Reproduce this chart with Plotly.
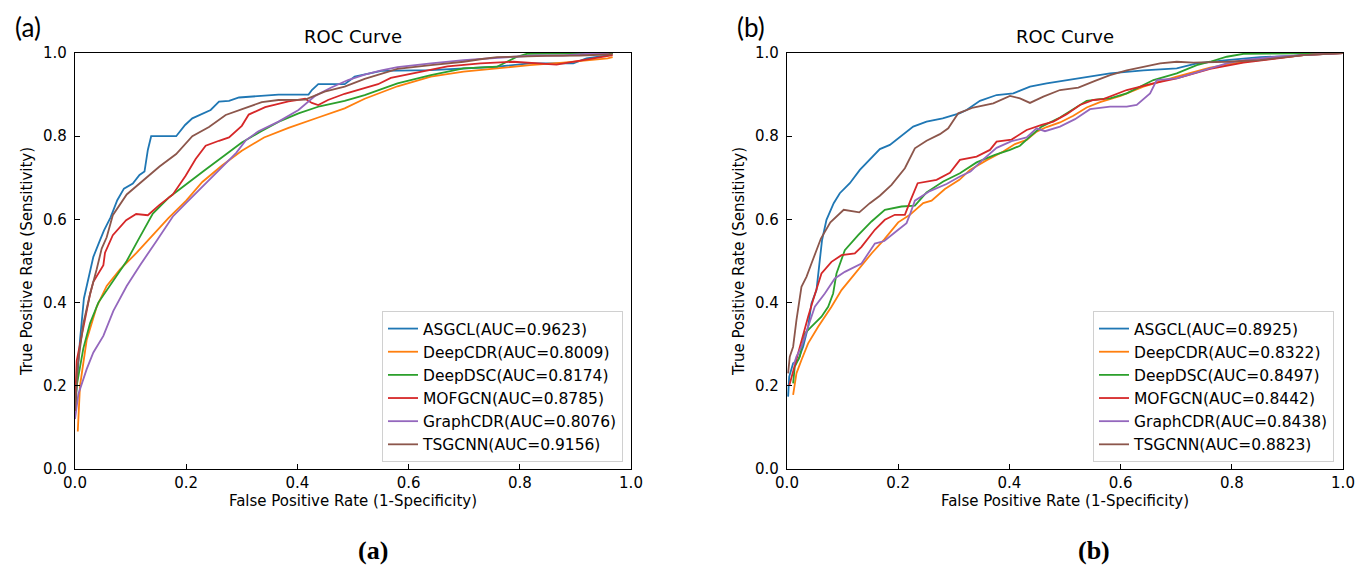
import plotly.graph_objects as go

MODELS = ["ASGCL", "DeepCDR", "DeepDSC", "MOFGCN", "GraphCDR", "TSGCNN"]
COLORS = ["#1f77b4", "#ff7f0e", "#2ca02c", "#d62728", "#9467bd", "#8c564b"]

AUC_A = [0.9623, 0.8009, 0.8174, 0.8785, 0.8076, 0.9156]
AUC_B = [0.8925, 0.8322, 0.8497, 0.8442, 0.8438, 0.8823]

# ---- panel (a): ROC points ----
A_ASGCL_FPR = [0.0, 0.009, 0.016, 0.024, 0.033, 0.045, 0.052, 0.064, 0.076, 0.088, 0.104, 0.116, 0.125,
               0.131, 0.137, 0.182, 0.198, 0.211, 0.229, 0.244, 0.259, 0.277, 0.295, 0.366, 0.42, 0.426,
               0.4375, 0.485, 0.503, 0.551, 0.64, 0.759, 0.818, 0.896, 0.92, 0.961, 0.967]
A_ASGCL_TPR = [0.14, 0.31, 0.41, 0.46, 0.51, 0.55, 0.573, 0.605, 0.646, 0.674, 0.686, 0.707, 0.715,
               0.767, 0.8, 0.8, 0.827, 0.843, 0.855, 0.863, 0.883, 0.885, 0.893, 0.9, 0.9, 0.911,
               0.925, 0.925, 0.943, 0.957, 0.959, 0.967, 0.975, 0.975, 0.987, 0.995, 1.0]

A_DEEPCDR_FPR = [0.005, 0.009, 0.021, 0.039, 0.057, 0.081, 0.111, 0.135, 0.168, 0.2, 0.229, 0.265, 0.3,
                 0.34, 0.384, 0.4375, 0.485, 0.521, 0.58, 0.64, 0.699, 0.759, 0.818, 0.878, 0.926, 0.958, 0.967]
A_DEEPCDR_TPR = [0.09, 0.2, 0.31, 0.39, 0.44, 0.48, 0.52, 0.555, 0.603, 0.645, 0.69, 0.73, 0.765,
                 0.797, 0.82, 0.845, 0.867, 0.89, 0.92, 0.943, 0.955, 0.963, 0.971, 0.977, 0.983, 0.987, 0.99]

A_DEEPDSC_FPR = [0.0, 0.003, 0.015, 0.027, 0.042, 0.063, 0.093, 0.113, 0.14, 0.17, 0.2, 0.235, 0.27, 0.3,
                 0.335, 0.37, 0.402, 0.44, 0.485, 0.521, 0.58, 0.64, 0.699, 0.759, 0.777, 0.795, 0.8125, 0.967]
A_DEEPDSC_TPR = [0.14, 0.2, 0.29, 0.35, 0.40, 0.44, 0.5, 0.549, 0.614, 0.654, 0.685, 0.72, 0.755, 0.785,
                 0.812, 0.837, 0.855, 0.872, 0.885, 0.899, 0.927, 0.947, 0.963, 0.967, 0.979, 0.991, 0.998, 1.0]

A_MOFGCN_FPR = [0.0, 0.003, 0.015, 0.027, 0.033, 0.051, 0.054, 0.068, 0.092, 0.11, 0.131, 0.152, 0.176,
                0.199, 0.217, 0.235, 0.259, 0.277, 0.3, 0.3125, 0.342, 0.384, 0.414, 0.426, 0.4375, 0.455,
                0.485, 0.521, 0.545, 0.568, 0.622, 0.67, 0.729, 0.789, 0.866, 0.926, 0.958, 0.967]
A_MOFGCN_TPR = [0.15, 0.26, 0.34, 0.42, 0.45, 0.49, 0.52, 0.562, 0.598, 0.613, 0.61, 0.635, 0.66,
                0.705, 0.745, 0.777, 0.789, 0.797, 0.825, 0.852, 0.87, 0.884, 0.89, 0.88, 0.875, 0.887,
                0.902, 0.915, 0.925, 0.94, 0.955, 0.968, 0.975, 0.979, 0.972, 0.985, 0.993, 0.995]

A_GRAPHCDR_FPR = [0.0, 0.006, 0.021, 0.033, 0.051, 0.069, 0.093, 0.117, 0.146, 0.176, 0.2, 0.223, 0.259,
                  0.29, 0.307, 0.33, 0.366, 0.402, 0.432, 0.461, 0.491, 0.521, 0.551, 0.58, 0.64, 0.699,
                  0.789, 0.83, 0.878, 0.92, 0.96]
A_GRAPHCDR_TPR = [0.12, 0.18, 0.24, 0.28, 0.32, 0.38, 0.44, 0.49, 0.547, 0.607, 0.64, 0.671, 0.717,
                  0.76, 0.79, 0.812, 0.835, 0.863, 0.897, 0.917, 0.935, 0.948, 0.958, 0.966, 0.975, 0.983,
                  0.991, 0.994, 0.994, 0.998, 1.0]

A_TSGCNN_FPR = [0.0, 0.005, 0.015, 0.027, 0.039, 0.048, 0.057, 0.068, 0.093, 0.122, 0.152, 0.182, 0.211,
                0.241, 0.271, 0.307, 0.336, 0.366, 0.414, 0.449, 0.485, 0.521, 0.58, 0.64, 0.699, 0.729,
                0.759, 0.848, 0.908, 0.967]
A_TSGCNN_TPR = [0.14, 0.25, 0.35, 0.42, 0.48, 0.53, 0.557, 0.61, 0.66, 0.694, 0.727, 0.757, 0.8,
                0.822, 0.851, 0.868, 0.882, 0.887, 0.888, 0.907, 0.919, 0.938, 0.962, 0.971, 0.979, 0.985,
                0.99, 0.993, 0.994, 0.997]

# ---- panel (b) ----
B_ASGCL_FPR = [0.002, 0.004, 0.011, 0.02, 0.029, 0.038, 0.044, 0.053, 0.059, 0.063, 0.071, 0.084, 0.095,
               0.113, 0.131, 0.149, 0.167, 0.185, 0.209, 0.227, 0.251, 0.28, 0.31, 0.323, 0.347, 0.377,
               0.407, 0.437, 0.467, 0.503, 0.539, 0.581, 0.641, 0.701, 0.737, 0.791, 0.851, 0.911, 0.941, 1.0]
B_ASGCL_TPR = [0.174, 0.222, 0.254, 0.262, 0.294, 0.342, 0.398, 0.43, 0.502, 0.55, 0.599, 0.639, 0.663,
               0.687, 0.719, 0.743, 0.769, 0.779, 0.805, 0.823, 0.835, 0.843, 0.855, 0.863, 0.885, 0.899,
               0.903, 0.919, 0.927, 0.935, 0.943, 0.951, 0.958, 0.963, 0.975, 0.983, 0.99, 0.993, 0.998, 1.0]

B_DEEPCDR_FPR = [0.011, 0.017, 0.026, 0.038, 0.056, 0.08, 0.098, 0.122, 0.152, 0.175, 0.2, 0.221, 0.245,
                 0.26, 0.284, 0.31, 0.329, 0.36, 0.389, 0.41, 0.431, 0.449, 0.467, 0.491, 0.515, 0.539,
                 0.563, 0.6, 0.641, 0.701, 0.761, 0.821, 0.881, 0.929, 0.971, 1.0]
B_DEEPCDR_TPR = [0.178, 0.23, 0.262, 0.302, 0.342, 0.39, 0.43, 0.47, 0.518, 0.552, 0.593, 0.611, 0.639,
                 0.645, 0.673, 0.695, 0.719, 0.743, 0.763, 0.781, 0.791, 0.811, 0.822, 0.833, 0.849, 0.869,
                 0.882, 0.897, 0.919, 0.943, 0.965, 0.979, 0.987, 0.995, 0.998, 1.0]

B_DEEPDSC_FPR = [0.011, 0.014, 0.023, 0.032, 0.044, 0.062, 0.074, 0.083, 0.089, 0.104, 0.128, 0.152, 0.176,
                 0.206, 0.23, 0.251, 0.281, 0.311, 0.341, 0.374, 0.401, 0.419, 0.437, 0.458, 0.491, 0.518,
                 0.539, 0.563, 0.581, 0.611, 0.659, 0.701, 0.737, 0.761, 0.791, 0.821, 1.0]
B_DEEPDSC_TPR = [0.206, 0.246, 0.27, 0.326, 0.342, 0.366, 0.39, 0.422, 0.47, 0.526, 0.562, 0.595, 0.623,
                 0.631, 0.633, 0.665, 0.691, 0.711, 0.737, 0.755, 0.767, 0.777, 0.799, 0.823, 0.845, 0.867,
                 0.885, 0.889, 0.891, 0.903, 0.935, 0.951, 0.971, 0.979, 0.991, 0.998, 1.0]

B_MOFGCN_FPR = [0.004, 0.018, 0.032, 0.038, 0.047, 0.062, 0.08, 0.098, 0.122, 0.134, 0.158, 0.176, 0.194,
                0.212, 0.222, 0.235, 0.269, 0.293, 0.311, 0.341, 0.365, 0.377, 0.404, 0.431, 0.458, 0.479,
                0.503, 0.527, 0.551, 0.569, 0.611, 0.659, 0.701, 0.761, 0.821, 0.881, 0.929, 0.971, 1.0]
B_MOFGCN_TPR = [0.2, 0.27, 0.334, 0.366, 0.406, 0.47, 0.498, 0.514, 0.518, 0.534, 0.575, 0.599, 0.611,
                0.611, 0.645, 0.687, 0.695, 0.712, 0.743, 0.751, 0.767, 0.787, 0.792, 0.815, 0.827, 0.835,
                0.853, 0.875, 0.887, 0.889, 0.911, 0.927, 0.939, 0.962, 0.977, 0.987, 0.995, 0.998, 1.0]

B_GRAPHCDR_FPR = [0.012, 0.017, 0.026, 0.038, 0.05, 0.068, 0.086, 0.104, 0.134, 0.158, 0.175, 0.2, 0.215,
                  0.222, 0.23, 0.257, 0.287, 0.311, 0.33, 0.352, 0.377, 0.404, 0.431, 0.449, 0.464, 0.491,
                  0.518, 0.545, 0.581, 0.611, 0.629, 0.653, 0.665, 0.701, 0.731, 0.761, 0.791, 0.821, 0.881,
                  0.929, 1.0]
B_GRAPHCDR_TPR = [0.25, 0.27, 0.294, 0.342, 0.39, 0.422, 0.458, 0.474, 0.494, 0.542, 0.548, 0.575, 0.591,
                  0.615, 0.645, 0.668, 0.685, 0.703, 0.715, 0.743, 0.772, 0.788, 0.797, 0.819, 0.812, 0.823,
                  0.841, 0.865, 0.871, 0.871, 0.875, 0.903, 0.935, 0.939, 0.951, 0.963, 0.975, 0.983, 0.991,
                  0.995, 1.0]

B_TSGCNN_FPR = [0.002, 0.005, 0.011, 0.017, 0.026, 0.035, 0.044, 0.053, 0.061, 0.078, 0.102, 0.13, 0.149,
                0.167, 0.188, 0.212, 0.23, 0.251, 0.275, 0.29, 0.308, 0.335, 0.371, 0.401, 0.419, 0.437,
                0.461, 0.491, 0.524, 0.554, 0.581, 0.611, 0.641, 0.671, 0.701, 0.731, 0.791, 0.851, 0.929, 1.0]
B_TSGCNN_TPR = [0.23, 0.27, 0.294, 0.358, 0.438, 0.462, 0.494, 0.526, 0.554, 0.593, 0.623, 0.617, 0.639,
                0.657, 0.683, 0.723, 0.771, 0.789, 0.805, 0.819, 0.855, 0.869, 0.879, 0.897, 0.891, 0.88,
                0.895, 0.911, 0.917, 0.933, 0.947, 0.958, 0.967, 0.975, 0.979, 0.977, 0.979, 0.983, 0.995, 1.0]

PANEL_A = [(A_ASGCL_FPR, A_ASGCL_TPR), (A_DEEPCDR_FPR, A_DEEPCDR_TPR), (A_DEEPDSC_FPR, A_DEEPDSC_TPR),
           (A_MOFGCN_FPR, A_MOFGCN_TPR), (A_GRAPHCDR_FPR, A_GRAPHCDR_TPR), (A_TSGCNN_FPR, A_TSGCNN_TPR)]
PANEL_B = [(B_ASGCL_FPR, B_ASGCL_TPR), (B_DEEPCDR_FPR, B_DEEPCDR_TPR), (B_DEEPDSC_FPR, B_DEEPDSC_TPR),
           (B_MOFGCN_FPR, B_MOFGCN_TPR), (B_GRAPHCDR_FPR, B_GRAPHCDR_TPR), (B_TSGCNN_FPR, B_TSGCNN_TPR)]

# the page body has an 8px margin, so the figure is drawn 8px in from the window corner
OFF = 8
W, H = 1369 - OFF, 565 - OFF
FONT = "DejaVu Sans"


def px_x(p):
    return (p - OFF) / W


def px_y(p):
    return 1 - (p - OFF) / H


fig = go.Figure()

for panel, (curves, aucs, xa, ya, leg) in enumerate(
    [(PANEL_A, AUC_A, "x", "y", "legend"), (PANEL_B, AUC_B, "x2", "y2", "legend2")]
):
    for i, ((fpr, tpr), auc) in enumerate(zip(curves, aucs)):
        fig.add_trace(go.Scatter(
            x=fpr, y=tpr, mode="lines",
            name=f"{MODELS[i]}(AUC={auc:.4f})",
            line=dict(color=COLORS[i], width=1.8),
            xaxis=xa, yaxis=ya, legend=leg,
            legendgroup=f"{panel}-{i}",
        ))

axis_common = dict(
    range=[0, 1], tickvals=[0, 0.2, 0.4, 0.6, 0.8, 1.0], ticktext=["0.0", "0.2", "0.4", "0.6", "0.8", "1.0"],
    ticks="inside", ticklen=5, tickwidth=1, tickcolor="black",
    showline=True, linecolor="black", linewidth=1.3, mirror=True,
    showgrid=False, zeroline=False, automargin=False,
    tickfont=dict(family=FONT, size=15, color="black"),
)
xtitle = dict(text="False Positive Rate (1-Specificity)", standoff=4, font=dict(family=FONT, size=15))
ytitle = dict(text="True Positive Rate (Sensitivity)", standoff=6, font=dict(family=FONT, size=15))
legend_common = dict(xanchor="right", yanchor="bottom", bgcolor="rgba(255,255,255,0.8)",
                     bordercolor="#d0d0d0", borderwidth=1, font=dict(family=FONT, size=15.5),
                     tracegroupgap=0)

y_top, y_bot = px_y(53), px_y(469)
fig.update_layout(
    width=W, height=H,
    margin=dict(l=0, r=0, t=0, b=0),
    paper_bgcolor="white", plot_bgcolor="white",
    font=dict(family=FONT, color="black"),
    xaxis=dict(domain=[px_x(75), px_x(631)], anchor="y", title=xtitle, **axis_common),
    yaxis=dict(domain=[y_bot, y_top], anchor="x", title=ytitle, ticklabelstandoff=4, **axis_common),
    xaxis2=dict(domain=[px_x(787), px_x(1343)], anchor="y2", title=xtitle, **axis_common),
    yaxis2=dict(domain=[y_bot, y_top], anchor="x2", title=ytitle, ticklabelstandoff=4, **axis_common),
    legend=dict(x=px_x(623), y=px_y(462), **legend_common),
    legend2=dict(x=px_x(1334), y=px_y(462), **legend_common),
    showlegend=True,
)

annotations = [
    dict(text="ROC Curve", x=px_x(353), y=px_y(37), font=dict(family=FONT, size=18)),
    dict(text="ROC Curve", x=px_x(1065), y=px_y(37), font=dict(family=FONT, size=18)),
    dict(text="(a)", x=px_x(28), y=px_y(27), font=dict(family="Lato", size=26)),
    dict(text="(b)", x=px_x(751), y=px_y(27), font=dict(family="Lato", size=26)),
    dict(text="<b>(a)</b>", x=px_x(373), y=px_y(550), font=dict(family="Liberation Serif", size=26)),
    dict(text="<b>(b)</b>", x=px_x(1094), y=px_y(550), font=dict(family="Liberation Serif", size=26)),
]
for a in annotations:
    fig.add_annotation(xref="paper", yref="paper", showarrow=False, xanchor="center", yanchor="middle", **a)

fig.write_html("out.html")
